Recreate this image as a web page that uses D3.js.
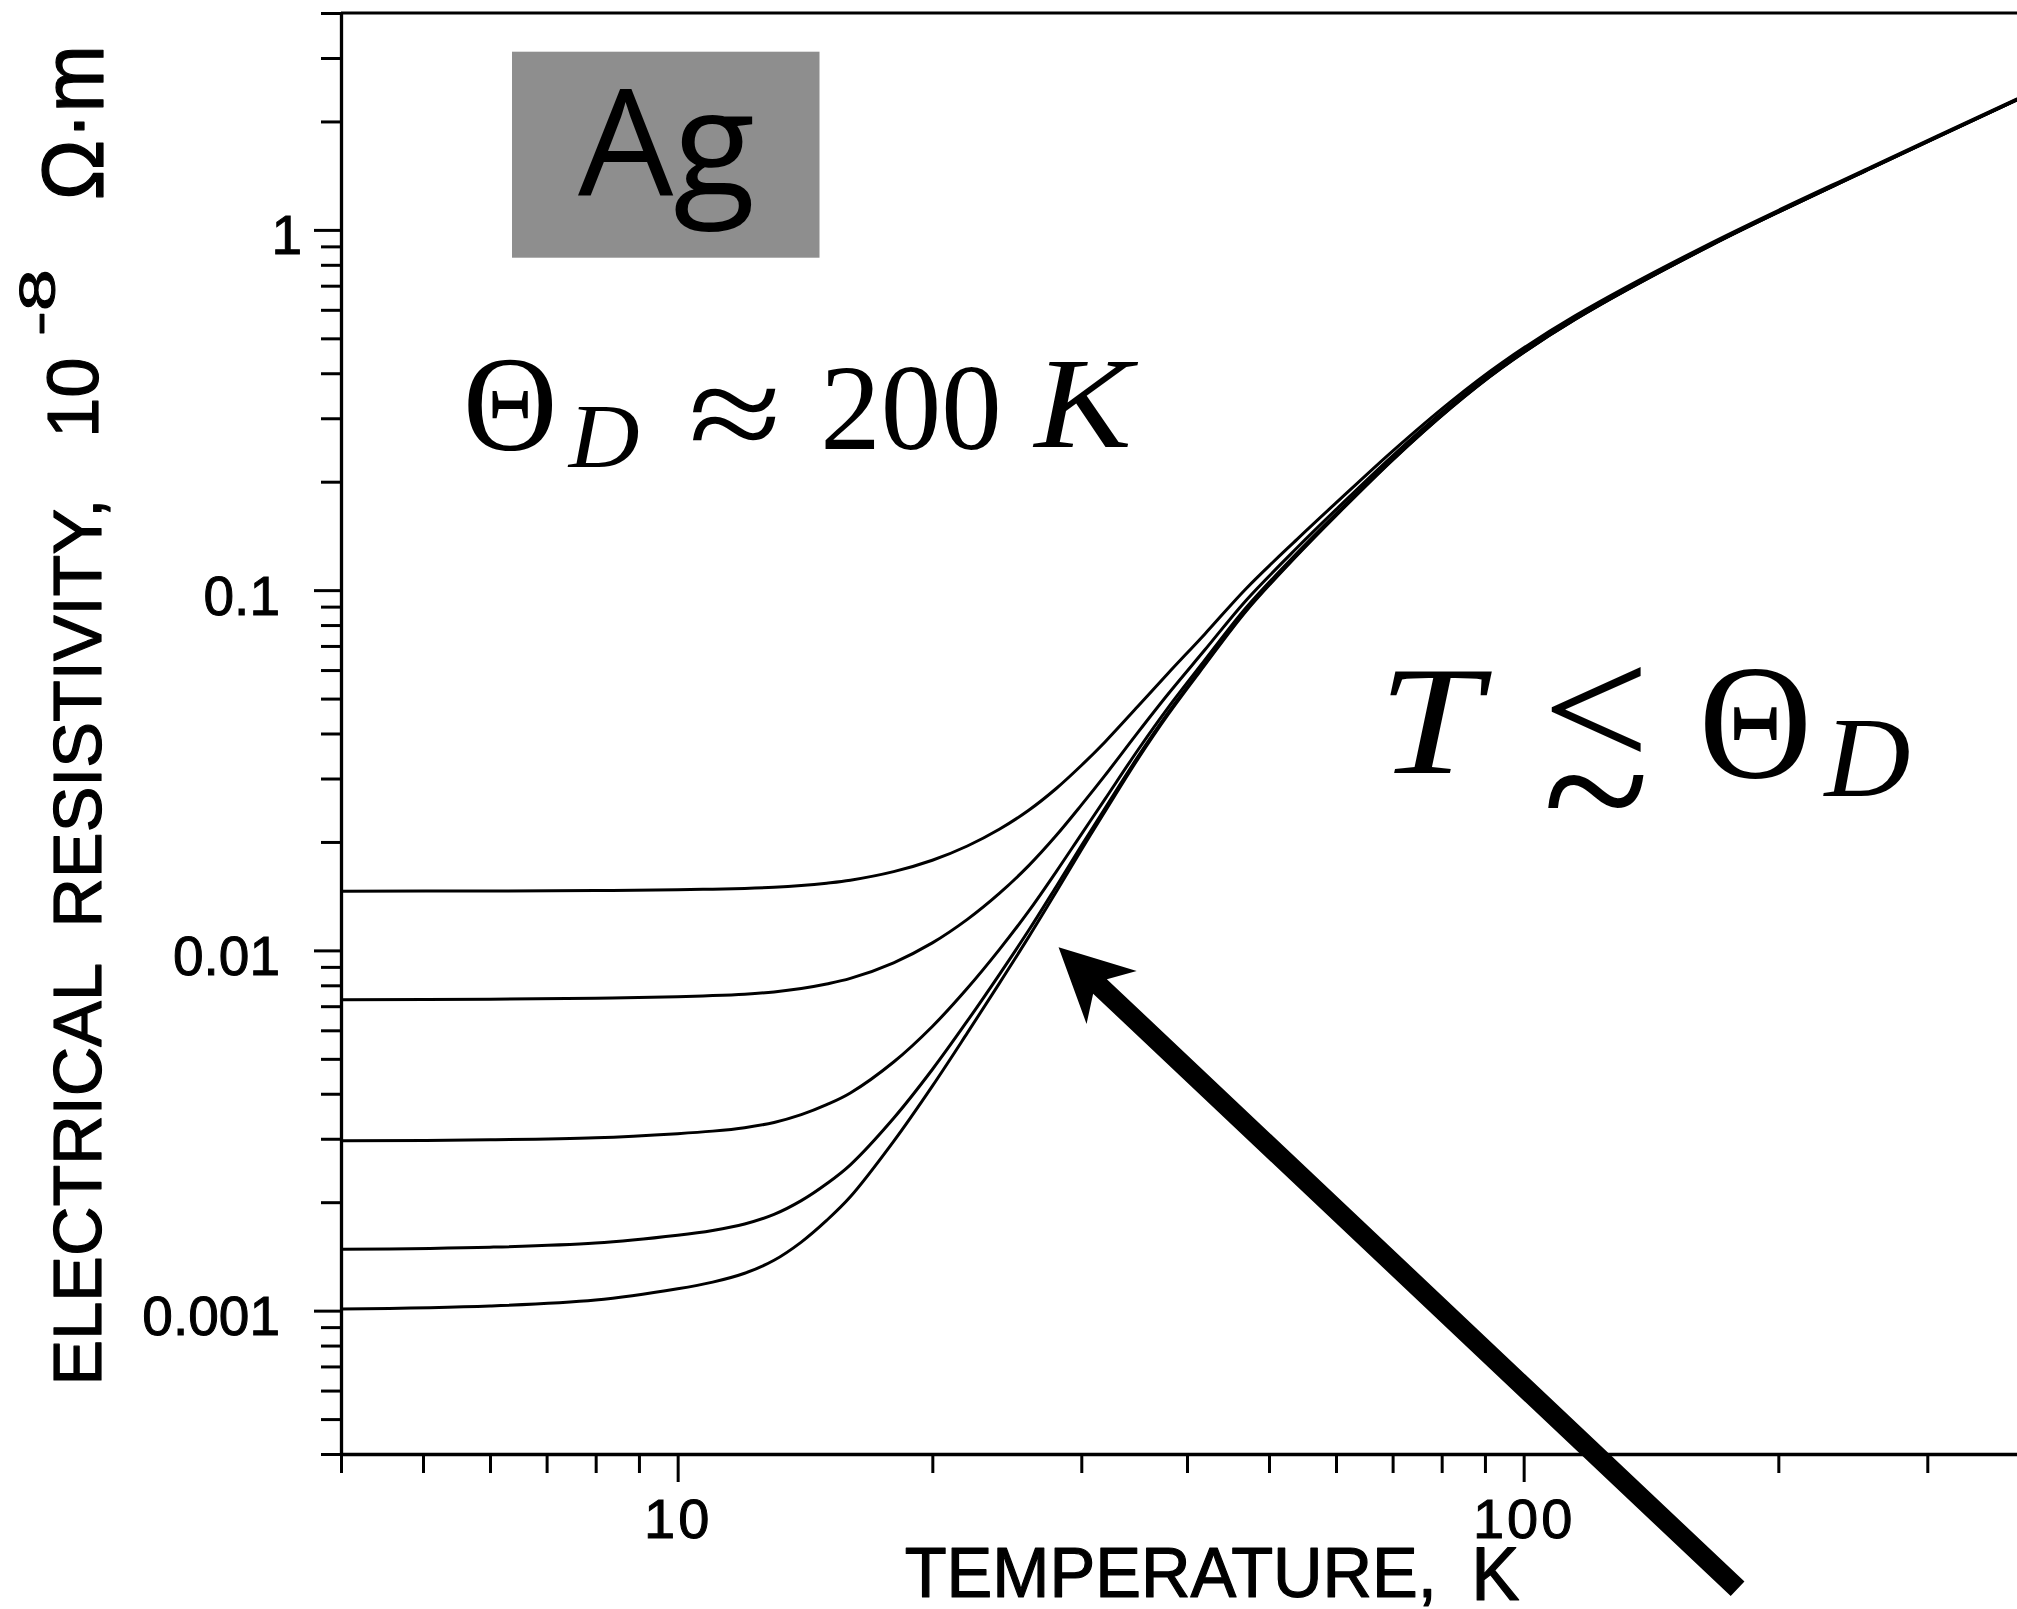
<!DOCTYPE html>
<html>
<head>
<meta charset="utf-8">
<script src="https://cdn.jsdelivr.net/npm/d3@7"></script>
<style>
  html, body { margin: 0; padding: 0; background: #ffffff; }
  svg { display: block; }
</style>
</head>
<body>
<svg id="chart" width="2017" height="1609"></svg>
<script>
// Temperatures (K) at which the resistivity curves are sampled
const temperatures = [4, 6, 8, 10, 11, 12, 13, 14, 15, 16, 18, 20, 22, 24, 26, 28, 30, 32, 35, 38, 42, 47, 54, 60, 70, 82, 94, 115, 167, 258, 400];

// Electrical resistivity of silver, 10^-8 Ω·m, for five samples of different purity
const rhoSampleA = [0.0146, 0.01462, 0.01466, 0.01474, 0.01479, 0.01486, 0.01497, 0.01514, 0.01537, 0.01566, 0.01654, 0.01779, 0.01949, 0.02169, 0.02449, 0.0281, 0.0326, 0.0379, 0.0476, 0.0588, 0.0756, 0.1011, 0.1386, 0.1746, 0.2433, 0.3338, 0.4260, 0.5774, 0.9224, 1.4996, 2.4206];
const rhoSampleB = [0.0073, 0.00732, 0.00736, 0.00744, 0.00749, 0.00756, 0.00767, 0.00784, 0.00807, 0.00836, 0.00924, 0.01049, 0.01219, 0.01439, 0.01719, 0.0208, 0.0253, 0.0306, 0.0403, 0.0515, 0.0683, 0.0938, 0.1313, 0.1673, 0.2360, 0.3265, 0.4187, 0.5701, 0.9151, 1.4923, 2.4133];
const rhoSampleC = [0.00296, 0.00298, 0.00302, 0.0031, 0.00315, 0.00322, 0.00333, 0.0035, 0.00373, 0.00402, 0.0049, 0.00615, 0.00785, 0.01005, 0.01285, 0.0165, 0.0210, 0.0263, 0.0360, 0.0472, 0.0640, 0.0895, 0.1270, 0.1630, 0.2317, 0.3222, 0.4144, 0.5658, 0.9108, 1.4880, 2.4090];
const rhoSampleD = [0.00148, 0.0015, 0.00154, 0.00162, 0.00167, 0.00174, 0.00185, 0.00202, 0.00225, 0.00254, 0.00342, 0.00467, 0.00637, 0.00857, 0.01137, 0.0150, 0.0195, 0.0248, 0.0345, 0.0457, 0.0625, 0.0880, 0.1255, 0.1615, 0.2302, 0.3207, 0.4129, 0.5643, 0.9093, 1.4865, 2.4075];
const rhoSampleE = [0.00101, 0.00103, 0.00107, 0.00115, 0.0012, 0.00127, 0.00138, 0.00155, 0.00178, 0.00207, 0.00295, 0.0042, 0.0059, 0.0081, 0.0109, 0.0145, 0.0190, 0.0243, 0.0340, 0.0452, 0.0620, 0.0875, 0.1250, 0.1610, 0.2297, 0.3202, 0.4124, 0.5638, 0.9088, 1.4860, 2.4070];

// Labelled ticks
const xMajorTicks = [10, 100];
const xTickLabels = ["10", "100"];
const yMajorTicks = [0.001, 0.01, 0.1, 1];
const yTickLabels = ["0.001", "0.01", "0.1", "1"];

// Axis extents
const tempDomain = [4, 400];
const rhoDomain = [0.0004, 4];

// Arrow annotation, in data coordinates (T, ρ)
const arrowTail = { T: 179, rho: 0.000169 };
const arrowTip = { T: 28.2, rho: 0.0102 };

const svg = d3.select("#chart");
const W = 2017, H = 1609;
svg.append("rect").attr("width", W).attr("height", H).attr("fill", "#ffffff");

const x = d3.scaleLog().domain(tempDomain).range([341, 2033]);
const y = d3.scaleLog().domain(rhoDomain).range([1454, 13]);

const near = (a, b) => Math.abs(a / b - 1) < 1e-6;

// ---- text placed by its ink box (measured with canvas) ----
const inkCtx = document.createElement("canvas").getContext("2d");
function inkText(parent, str, box, font) {
  const size = 100;
  const style = font.style || "normal";
  const weight = font.weight || 400;
  inkCtx.font = `${style} ${weight} ${size}px ${font.family}`;
  const m = inkCtx.measureText(str);
  const w = m.actualBoundingBoxLeft + m.actualBoundingBoxRight;
  const h = m.actualBoundingBoxAscent + m.actualBoundingBoxDescent;
  let sx = (box[2] - box[0]) / w;
  let sy = (box[3] - box[1]) / h;
  let top = box[1];
  if (font.uniform) {
    // keep the glyph's own proportions: fit the width, centre vertically
    sy = sx;
    top = (box[1] + box[3]) / 2 - h * sy / 2;
  }
  const t = parent.append("text")
    .attr("transform", `translate(${box[0] + m.actualBoundingBoxLeft * sx},${top + m.actualBoundingBoxAscent * sy}) scale(${sx},${sy})`)
    .attr("font-family", font.family)
    .attr("font-style", style)
    .attr("font-weight", weight)
    .attr("font-size", size)
    .attr("fill", "#000")
    .style("white-space", "pre")
    .text(str);
  if (font.stroke) {
    // slightly heavier strokes, in screen pixels
    t.attr("stroke", "#000").attr("stroke-width", font.stroke / Math.sqrt(sx * sy)).attr("stroke-linejoin", "round");
  }
  return t;
}

const SANS = "'Liberation Sans', Arial, sans-serif";
const SERIF = "'Liberation Serif', 'Times New Roman', serif";

// ---- frame: top line ----
svg.append("line")
  .attr("x1", x(tempDomain[0])).attr("x2", x(tempDomain[1]))
  .attr("y1", y(rhoDomain[1])).attr("y2", y(rhoDomain[1]))
  .attr("stroke", "#000").attr("stroke-width", 3);

// ---- y axis ----
const yAxis = svg.append("g")
  .attr("transform", `translate(${x(tempDomain[0])},0)`)
  .call(d3.axisLeft(y)
    .tickValues(y.ticks())
    .tickSizeOuter(0)
    .tickFormat(d => {
      const i = yMajorTicks.findIndex(v => near(d, v));
      return i < 0 ? "" : yTickLabels[i];
    }));
yAxis.select(".domain").attr("stroke", "#000").attr("stroke-width", 3.3);
yAxis.selectAll(".tick line")
  .attr("stroke", "#000").attr("stroke-width", 3)
  .attr("x2", d => yMajorTicks.some(v => near(d, v)) ? -27 : -20);
yAxis.selectAll(".tick text")
  .attr("font-family", SANS).attr("font-size", 55).attr("fill", "#000")
  .attr("stroke", "#000").attr("stroke-width", 1)
  .attr("x", d => near(d, 1) ? -39 : -61)
  .attr("dy", 24);

// ---- x axis ----
const xAxis = svg.append("g")
  .attr("transform", `translate(0,${y(rhoDomain[0])})`)
  .call(d3.axisBottom(x)
    .tickValues(x.ticks())
    .tickSizeOuter(0)
    .tickFormat(d => {
      const i = xMajorTicks.findIndex(v => near(d, v));
      return i < 0 ? "" : xTickLabels[i];
    }));
xAxis.select(".domain").attr("stroke", "#000").attr("stroke-width", 3.3);
xAxis.selectAll(".tick line")
  .attr("stroke", "#000").attr("stroke-width", 3)
  .attr("y2", d => xMajorTicks.some(v => near(d, v)) ? 28 : 19);
xAxis.selectAll(".tick text")
  .attr("font-family", SANS).attr("font-size", 56).attr("fill", "#000")
  .attr("stroke", "#000").attr("stroke-width", 1)
  .attr("letter-spacing", 3)
  .attr("y", 84).attr("dy", 0);

// ---- resistivity curves ----
const series = [rhoSampleA, rhoSampleB, rhoSampleC, rhoSampleD, rhoSampleE];
const line = d3.line()
  .x(d => x(d[0]))
  .y(d => y(d[1]))
  .curve(d3.curveCatmullRom.alpha(0.5));
svg.append("g").selectAll("path")
  .data(series.map(s => temperatures.map((t, i) => [t, s[i]])))
  .join("path")
  .attr("d", line)
  .attr("fill", "none")
  .attr("stroke", "#000")
  .attr("stroke-width", 3)
  .attr("stroke-linejoin", "round");

// ---- axis titles ----
const yTitle = svg.append("g").attr("transform", "rotate(-90)");
// boxes are given in the rotated frame: [u0, v0, u1, v1] = [-y1, x0, -y0, x1]
inkText(yTitle, "ELECTRICAL  RESISTIVITY,", [-1380, 52.7, -502, 110], { family: SANS, stroke: 1.2 });
inkText(yTitle, "10", [-433, 48, -360, 99], { family: SANS, stroke: 1.2 });
inkText(yTitle, "-8", [-333, 20, -272, 56], { family: SANS, stroke: 1.2 });
inkText(yTitle, "Ω·m", [-197, 42.4, -50, 103], { family: SANS, stroke: 1.2 });

inkText(svg, "TEMPERATURE,", [906, 1548, 1431, 1606], { family: SANS, stroke: 1.2 });
inkText(svg, "K", [1477, 1548, 1519, 1600], { family: SANS, stroke: 1.2 });

// ---- element tag ----
svg.append("rect")
  .attr("x", 512).attr("y", 51.7)
  .attr("width", 307.5).attr("height", 206)
  .attr("fill", "#8e8e8e");
inkText(svg, "Ag", [578, 87.3, 753.3, 231.7], { family: "'Open Sans', 'Noto Sans', sans-serif" });

// ---- Debye temperature note ----
inkText(svg, "Θ", [468.3, 360.7, 553.3, 451.7], { family: SERIF });
inkText(svg, "D", [566.7, 408.3, 638.3, 468.3], { family: SERIF, style: "italic" });
inkText(svg, "≈", [691.7, 388.3, 776.7, 441.7], { family: SERIF });
inkText(svg, "200", [825, 368, 998, 451], { family: SERIF });
inkText(svg, "K", [1031.7, 363.3, 1138.3, 448.3], { family: SERIF, style: "italic" });

// ---- regime note T ≲ Θ_D ----
inkText(svg, "T", [1389.3, 672.7, 1492.7, 775], { family: SERIF, style: "italic" });
inkText(svg, "<", [1550, 665, 1641.7, 751.7], { family: SERIF });
inkText(svg, "~", [1546.7, 775, 1645, 810], { family: SERIF, uniform: true });
inkText(svg, "Θ", [1705, 669, 1807, 778.3], { family: SERIF });
inkText(svg, "D", [1822, 722, 1909, 797], { family: SERIF, style: "italic" });

// ---- arrow pointing at the converging curves ----
(function drawArrow() {
  const tx = x(arrowTip.T), ty = y(arrowTip.rho);
  const bx = x(arrowTail.T), by = y(arrowTail.rho);
  const len = Math.hypot(bx - tx, by - ty);
  const ux = (bx - tx) / len, uy = (by - ty) / len;   // along the shaft, tip → tail
  const vx = -uy, vy = ux;                             // across the shaft
  const shaftHalf = 10, headLen = 73, headHalf = 36.5, notch = 57;
  const pt = (a, b) => [tx + ux * a + vx * b, ty + uy * a + vy * b];
  const pts = [
    pt(0, 0),
    pt(headLen, -headHalf),
    pt(notch, -shaftHalf),
    pt(len, -shaftHalf),
    pt(len, shaftHalf),
    pt(notch, shaftHalf),
    pt(headLen, headHalf)
  ];
  svg.append("path")
    .attr("d", "M" + pts.map(p => p.join(",")).join("L") + "Z")
    .attr("fill", "#000");
})();
</script>
</body>
</html>
